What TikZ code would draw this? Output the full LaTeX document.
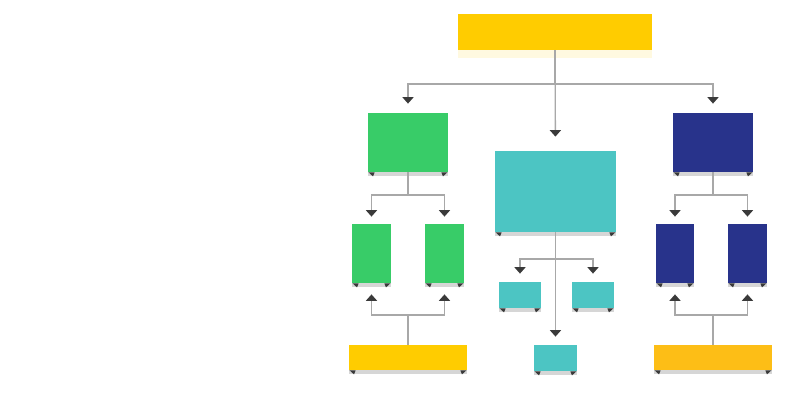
\documentclass[tikz,border=0pt]{standalone}
\usetikzlibrary{arrows.meta}
\definecolor{cyellow}{HTML}{FFCC00}
\definecolor{corange}{HTML}{FDBE16}
\definecolor{cgreen}{HTML}{38CC68}
\definecolor{cteal}{HTML}{4CC5C3}
\definecolor{cnavy}{HTML}{28338B}
\definecolor{cline}{HTML}{A8A8A8}
\definecolor{ctip}{HTML}{3A3A3A}
\tikzset{
  box/.style={rectangle, inner sep=0pt, draw=none},
  conn/.style={draw=cline, line width=0.65pt, -{Triangle[width=5.5pt,length=3.2pt,color=ctip]}},
  wedge/.style={fill=ctip},
  shade band/.style={fill=black!16},
}
\newcommand\curlbox[1]{%
  \fill[shade band] (#1.south west) rectangle ([yshift=-1.8pt]#1.south east);
  \fill[wedge] ([xshift=0.5pt]#1.south west) -- ++(3pt,0) -- ++(-0.8pt,-2pt) -- cycle;
  \fill[wedge] ([xshift=-0.5pt]#1.south east) -- ++(-3pt,0) -- ++(0.8pt,-2pt) -- cycle;
}
\begin{document}
\begin{tikzpicture}[x=0.5pt,y=-0.5pt]
\useasboundingbox[fill=white] (0,0) rectangle (800,400);
% top
\fill[cyellow!12] (458,50) rectangle (652,58);
\node[box, fill=cyellow, minimum width=97pt, minimum height=18pt] (top) at (555,32) {};
% level 1
\node[box, fill=cgreen, minimum width=40pt, minimum height=29.5pt] (gl) at (408,142.5) {};
\node[box, fill=cteal, minimum width=60.5pt, minimum height=40.5pt] (tm) at (555.5,191.5) {};
\node[box, fill=cnavy, minimum width=40pt, minimum height=29.5pt] (nr) at (713,142.5) {};
% level 2
\node[box, fill=cgreen, minimum width=19.5pt, minimum height=29.5pt] (g1) at (371.5,253.5) {};
\node[box, fill=cgreen, minimum width=19.5pt, minimum height=29.5pt] (g2) at (444.5,253.5) {};
\node[box, fill=cteal, minimum width=21pt, minimum height=13pt] (t1) at (520,295) {};
\node[box, fill=cteal, minimum width=21pt, minimum height=13pt] (t2) at (593,295) {};
\node[box, fill=cnavy, minimum width=19pt, minimum height=29.5pt] (n1) at (675,253.5) {};
\node[box, fill=cnavy, minimum width=19.5pt, minimum height=29.5pt] (n2) at (747.5,253.5) {};
% bottom
\node[box, fill=cyellow, minimum width=59pt, minimum height=12.5pt] (yb) at (408,357.5) {};
\node[box, fill=cteal, minimum width=21.5pt, minimum height=13pt] (tb) at (555.5,358) {};
\node[box, fill=corange, minimum width=59pt, minimum height=12.5pt] (ob) at (713,357.5) {};
% curls
\foreach \b in {gl,tm,nr,g1,g2,t1,t2,n1,n2,yb,tb,ob} {\curlbox{\b}}
% connectors from top
\coordinate (j0) at (top.south |- 0,84);
\draw[conn, shorten >=4.5pt] (top.south) -- (j0) -| (gl.north);
\draw[conn, shorten >=4.5pt] (j0) -| (nr.north);
\draw[conn, shorten >=7pt] (top.south) -- (tm.north);
% green branch
\coordinate (jg) at (gl.south |- 0,195);
\draw[conn, shorten >=3.5pt] (gl.south) -- (jg) -| (g1.north);
\draw[conn, shorten >=3.5pt] (jg) -| (g2.north);
\coordinate (jy) at (yb.north |- 0,315);
\draw[conn, shorten >=5.5pt] (yb.north) -- (jy) -| (g1.south);
\draw[conn, shorten >=5.5pt] (jy) -| (g2.south);
% navy branch
\coordinate (jn) at (nr.south |- 0,195);
\draw[conn, shorten >=3.5pt] (nr.south) -- (jn) -| (n1.north);
\draw[conn, shorten >=3.5pt] (jn) -| (n2.north);
\coordinate (jo) at (ob.north |- 0,315);
\draw[conn, shorten >=5.5pt] (ob.north) -- (jo) -| (n1.south);
\draw[conn, shorten >=5.5pt] (jo) -| (n2.south);
% teal branch
\coordinate (jt) at (tm.south |- 0,259);
\draw[conn, shorten >=4pt] (tm.south) -- (jt) -| (t1.north);
\draw[conn, shorten >=4pt] (jt) -| (t2.north);
\draw[conn, shorten >=4pt] (tm.south) -- (tb.north);
\end{tikzpicture}
\end{document}
